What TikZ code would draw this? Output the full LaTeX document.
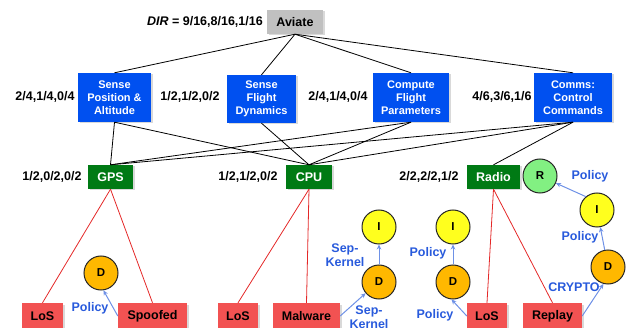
\documentclass[tikz,border=0pt]{standalone}
\usepackage{fontspec}
\setmainfont{Liberation Sans}
\usetikzlibrary{arrows.meta,shadows}
\definecolor{goalgray}{RGB}{192,192,192}
\definecolor{taskblue}{RGB}{0,80,240}
\definecolor{assetgreen}{RGB}{0,122,20}
\definecolor{threatred}{RGB}{242,82,82}
\definecolor{dfill}{RGB}{255,184,0}
\definecolor{ifill}{RGB}{255,255,30}
\definecolor{rfill}{RGB}{130,240,130}
\definecolor{mitblue}{RGB}{40,90,220}
\definecolor{arrowblue}{RGB}{110,145,230}
\definecolor{threatline}{RGB}{228,40,40}
\begin{document}
\begin{tikzpicture}[x=1pt,y=-1pt,
  box/.style={inner sep=0pt, align=center,
    drop shadow={shadow xshift=1.5pt,shadow yshift=-1.5pt,opacity=0.3}},
  goal/.style={box, fill=goalgray, minimum width=56pt, minimum height=24pt,
    font=\fontsize{12.5}{14}\selectfont\bfseries},
  task/.style={box, fill=taskblue, text=white, minimum height=49pt,
    font=\fontsize{11}{13}\selectfont\bfseries},
  asset/.style={box, fill=assetgreen, text=white, minimum height=24pt,
    font=\fontsize{12.5}{14}\selectfont\bfseries},
  threat/.style={box, fill=threatred, minimum height=26pt,
    font=\fontsize{12.5}{14}\selectfont\bfseries},
  score/.style={font=\fontsize{12.5}{14}\selectfont\bfseries, inner sep=0pt},
  defense/.style={circle, draw=black!85, line width=1pt, minimum size=34pt,
    inner sep=0pt, font=\fontsize{11.5}{13}\selectfont\bfseries},
  mitlabel/.style={text=mitblue, font=\fontsize{12.5}{14}\selectfont\bfseries,
    align=center, inner sep=0pt},
  link/.style={black, line width=0.8pt},
  threatlink/.style={threatline, line width=0.8pt},
  mitarrow/.style={arrowblue, line width=1pt, -{Stealth[length=5pt,width=4.5pt]}},
]
\useasboundingbox (0,0) rectangle (628,328);

% mission goal
\node[goal] (aviate) at (295,22) {Aviate};
\node[score, anchor=east] (dir) at (263,22) {{\itshape DIR} = 9/16,8/16,1/16};

% tasks
\node[task, minimum width=73pt] (spa) at (114.5,97.5) {Sense\\Position \&\\Altitude};
\node[task, minimum width=69pt, minimum height=48pt] (sfd) at (261.5,99) {Sense\\Flight\\Dynamics};
\node[task, minimum width=76pt] (cfp) at (411,97.5) {Compute\\Flight\\Parameters};
\node[task, minimum width=78pt] (ccc) at (573,97.5) {Comms:\\Control\\Commands};
\node[score] (sspa) at (45,97) {2/4,1/4,0/4};
\node[score] (ssfd) at (190,97) {1/2,1/2,0/2};
\node[score] (scfp) at (338,97) {2/4,1/4,0/4};
\node[score] (sccc) at (502,97) {4/6,3/6,1/6};

% assets
\node[asset, minimum width=45pt] (gps) at (110.5,177) {GPS};
\node[asset, minimum width=46pt] (cpu) at (309,177) {CPU};
\node[asset, minimum width=53pt] (radio) at (493.5,177) {Radio};
\node[score] (sgps) at (52,177) {1/2,0/2,0/2};
\node[score] (scpu) at (248,177) {1/2,1/2,0/2};
\node[score] (sradio) at (429,177) {2/2,2/2,1/2};

% threats
\node[threat, minimum width=41pt] (los1) at (42.5,316) {LoS};
\node[threat, minimum width=69pt] (spoof) at (152.5,316) {Spoofed};
\node[threat, minimum width=40pt] (los2) at (238,316) {LoS};
\node[threat, minimum width=67pt] (malw) at (306.5,316) {Malware};
\node[threat, minimum width=40pt] (los3) at (487,316) {LoS};
\node[threat, minimum width=59pt] (replay) at (552.5,316) {Replay};

% goal to tasks
\foreach \t in {spa,sfd,cfp,ccc}
  \draw[link] (aviate.south) -- (\t.north);

% tasks to assets
\draw[link] (spa.south) -- (gps.north);
\draw[link] (spa.south) -- (cpu.north);
\draw[link] (sfd.south) -- (cpu.north);
\draw[link] (cfp.south) -- (gps.north);
\draw[link] (cfp.south) -- (cpu.north);
\draw[link] (ccc.south) -- (gps.north);
\draw[link] (ccc.south) -- (cpu.north);
\draw[link] (ccc.south) -- (radio.north);

% assets to threats
\draw[threatlink] (gps.south) -- (los1.north);
\draw[threatlink] (gps.south) -- (spoof.north);
\draw[threatlink] (cpu.south) -- (los2.north);
\draw[threatlink] (cpu.south) -- (malw.north);
\draw[threatlink] (radio.south) -- (los3.north);
\draw[threatlink] (radio.south) -- (replay.north);

% defenses
\node[defense, fill=dfill] (dgps) at (101,273) {D};
\node[defense, fill=dfill] (dmal) at (379,282) {D};
\node[defense, fill=ifill] (imal) at (379,227) {I};
\node[defense, fill=dfill] (dlos) at (453,282) {D};
\node[defense, fill=ifill] (ilos) at (453,227) {I};
\node[defense, fill=dfill] (drep) at (608,267) {D};
\node[defense, fill=ifill] (irep) at (597,210) {I};
\node[defense, fill=rfill] (rrep) at (540,176) {R};

% mitigation arrows
\draw[mitarrow] (spoof.west) -- (dgps.-82);
\draw[mitarrow] (malw.east) -- (dmal.-140);
\draw[mitarrow] (dmal) -- (imal);
\draw[mitarrow] (los3.west) -- (dlos.-95);
\draw[mitarrow] (dlos) -- (ilos);
\draw[mitarrow] (replay.east) -- (drep.-105);
\draw[mitarrow] (drep) -- (irep);
\draw[mitarrow] (irep.130) -- (rrep);

% mitigation labels
\node[mitlabel] (pgps) at (90,308) {Policy};
\node[mitlabel] (skup) at (345,255) {Sep-\\Kernel};
\node[mitlabel, anchor=north] (skdown) at (369,306) {Sep-\\Kernel};
\node[mitlabel] (plosup) at (428,253) {Policy};
\node[mitlabel] (plosdn) at (435,315) {Policy};
\node[mitlabel] (prepdi) at (580,237) {Policy};
\node[mitlabel] (prepir) at (590,176) {Policy};
\node[mitlabel] (crypto) at (574,287) {CRYPTO};
\end{tikzpicture}
\end{document}
